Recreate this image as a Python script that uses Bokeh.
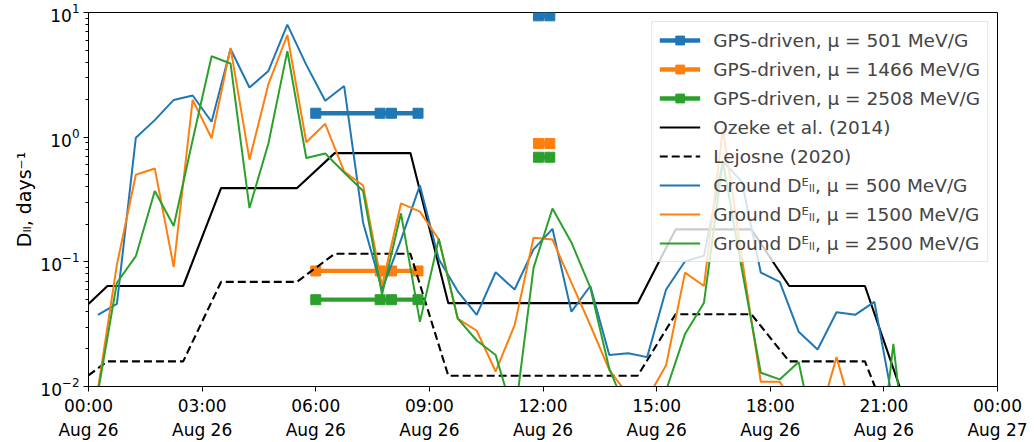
import numpy as np
from datetime import datetime, timedelta
from bokeh.plotting import figure
from bokeh.models import (Range1d, FixedTicker, DatetimeTickFormatter, Legend,
                          LegendItem, ColumnDataSource)
from bokeh.embed import file_html
from bokeh.resources import INLINE

START = datetime(2018, 8, 26)

# ---------------- data (hours after 2018-08-26 00:00 UT) ----------------
ground_hours = list(np.arange(0.25, 22.0, 0.5))

ground_500 = [0.0375, 0.046, 0.99, 1.37, 1.99, 2.16, 1.33, 5.1, 2.5, 3.4,
              8.0, 3.8, 1.96, 2.57, 0.206, 0.060, 0.15, 0.41, 0.105, 0.058,
              0.0375, 0.0825, 0.060, 0.126, 0.184, 0.0398, 0.064, 0.0179, 0.0185, 0.0172,
              0.060, 0.101, 0.112, 0.64, 0.44, 0.082, 0.069, 0.0275, 0.0198, 0.0394,
              0.0377, 0.0477, 0.0072, 0.004]
ground_1500 = [0.0095, 0.095, 0.50, 0.56, 0.091, 1.99, 0.98, 5.2, 0.66, 2.66,
               6.6, 0.91, 1.28, 0.53, 0.41, 0.064, 0.294, 0.253, 0.151, 0.035,
               0.028, 0.0132, 0.031, 0.156, 0.151, 0.068, 0.031, 0.0136, 0.0085, 0.008,
               0.0148, 0.082, 0.064, 1.18, 0.108, 0.0109, 0.0109, 0.0065, 0.005, 0.0172,
               0.005, 0.004, 0.004, 0.004]
ground_2500 = [0.009, 0.068, 0.111, 0.37, 0.194, 0.95, 4.46, 3.9, 0.27, 0.89,
               4.9, 0.68, 0.74, 0.52, 0.37, 0.0546, 0.245, 0.033, 0.153, 0.035,
               0.0234, 0.0179, 0.0055, 0.0895, 0.268, 0.143, 0.062, 0.0139, 0.006, 0.005,
               0.0093, 0.0264, 0.047, 0.64, 0.0875, 0.0129, 0.0114, 0.0157, 0.003, 0.003,
               0.003, 0.001, 0.022, 0.001]

model_hours = [0.0, 0.5, 1.5, 2.5, 3.5, 4.5, 5.5, 6.5, 7.5, 8.5, 9.5, 10.5, 11.5,
               12.5, 13.5, 14.5, 15.5, 16.5, 17.5, 18.5, 19.5, 20.5, 21.5]
ozeke_2014 = [0.046, 0.064, 0.064, 0.064, 0.39, 0.39, 0.39, 0.745, 0.745, 0.745,
              0.0466, 0.0466, 0.0466, 0.0466, 0.0466, 0.0466, 0.182, 0.182, 0.182,
              0.064, 0.064, 0.064, 0.0084]
lejosne_2020 = [0.0123, 0.0159, 0.0159, 0.0159, 0.069, 0.069, 0.069, 0.116, 0.116, 0.116,
                0.0122, 0.0122, 0.0122, 0.0122, 0.0122, 0.0122, 0.038, 0.038, 0.038,
                0.0159, 0.0159, 0.0159, 0.0027]

gps_hours = [6.0, 7.7, 8.0, 8.7, 10.3, 11.88, 12.18]
gps_501 = [1.555, 1.555, 1.555, 1.555, np.nan, 9.4, 9.4]
gps_1466 = [0.0845, 0.0845, 0.0845, 0.0845, np.nan, 0.89, 0.89]
gps_2508 = [0.0497, 0.0497, 0.0497, 0.0497, np.nan, 0.69, 0.69]

tick_hours = [0, 3, 6, 9, 12, 15, 18, 21, 24]

BLUE, ORANGE, GREEN = "#1f77b4", "#ff7f0e", "#2ca02c"
FONT = "DejaVu Sans"


def to_time(hours):
    return [START + timedelta(hours=float(h)) for h in hours]


p = figure(width=1034, height=442, x_axis_type="datetime", y_axis_type="log",
           output_backend="svg", toolbar_location=None,
           x_range=Range1d(START, START + timedelta(hours=24)),
           y_range=Range1d(0.01, 10),
           min_border_left=88, min_border_right=37, min_border_top=12, min_border_bottom=54)

items = []
for hrs, vals, col, lab in [(gps_hours, gps_501, BLUE, "GPS-driven, μ = 501 MeV/G"),
                            (gps_hours, gps_1466, ORANGE, "GPS-driven, μ = 1466 MeV/G"),
                            (gps_hours, gps_2508, GREEN, "GPS-driven, μ = 2508 MeV/G")]:
    src = ColumnDataSource(dict(t=to_time(hrs), v=vals))
    r1 = p.line("t", "v", source=src, line_color=col, line_width=4.3)
    r2 = p.scatter("t", "v", source=src, marker="square", size=10,
                   fill_color=col, line_color=col)
    items.append(LegendItem(label=lab, renderers=[r1, r2]))

src = ColumnDataSource(dict(t=to_time(model_hours), a=ozeke_2014, b=lejosne_2020))
r = p.line("t", "a", source=src, line_color="black", line_width=2.1)
items.append(LegendItem(label="Ozeke et al. (2014)", renderers=[r]))
r = p.line("t", "b", source=src, line_color="black", line_width=2.1, line_dash="8 4")
items.append(LegendItem(label="Lejosne (2020)", renderers=[r]))

gsrc = ColumnDataSource(dict(t=to_time(ground_hours), a=ground_500, b=ground_1500, c=ground_2500))
for key, col, lab in [("a", BLUE, "Ground Dᴱₗₗ, μ = 500 MeV/G"),
                      ("b", ORANGE, "Ground Dᴱₗₗ, μ = 1500 MeV/G"),
                      ("c", GREEN, "Ground Dᴱₗₗ, μ = 2500 MeV/G")]:
    r = p.line("t", key, source=gsrc, line_color=col, line_width=2.0)
    items.append(LegendItem(label=lab, renderers=[r]))

legend = Legend(items=items, location="top_right",
                label_text_font=FONT, label_text_font_size="18.5px",
                label_height=22, glyph_height=22, glyph_width=41, label_standoff=13,
                spacing=7, padding=7, margin=9,
                border_line_color="#cccccc", border_line_width=1,
                background_fill_color="white", background_fill_alpha=0.8)
p.add_layout(legend)

# axes styling
tick_ms = [(START + timedelta(hours=h) - datetime(1970, 1, 1)).total_seconds() * 1000
           for h in tick_hours]
p.xaxis.ticker = FixedTicker(ticks=tick_ms)
fmt = "%H:%M\n%b %d"
p.xaxis.formatter = DatetimeTickFormatter(hours=fmt, days=fmt, hourmin=fmt, minutes=fmt,
                                          months=fmt, years=fmt)
p.yaxis.axis_label = "Dₗₗ, days⁻¹"

for ax in (p.xaxis[0], p.yaxis[0]):
    ax.major_label_text_font = FONT
    ax.major_label_text_font_size = "17px"
    ax.major_label_text_color = "black"
    ax.axis_line_color = "black"
    ax.major_tick_line_color = "black"
    ax.major_tick_out = 5
    ax.major_tick_in = 0
    ax.minor_tick_out = 3
    ax.minor_tick_in = 0
    ax.axis_label_text_font = FONT
    ax.axis_label_text_font_size = "19px"
    ax.axis_label_text_color = "black"
    ax.axis_label_text_font_style = "normal"
p.xaxis.minor_tick_line_color = None
p.xaxis.major_label_standoff = 4
p.yaxis.major_label_standoff = 4
p.yaxis.axis_label_standoff = 2

p.xgrid.grid_line_color = None
p.ygrid.grid_line_color = None
p.outline_line_color = "black"
p.outline_line_width = 1
p.background_fill_color = "white"
p.border_fill_color = "white"

open("out.html", "w").write(file_html(p, INLINE))
